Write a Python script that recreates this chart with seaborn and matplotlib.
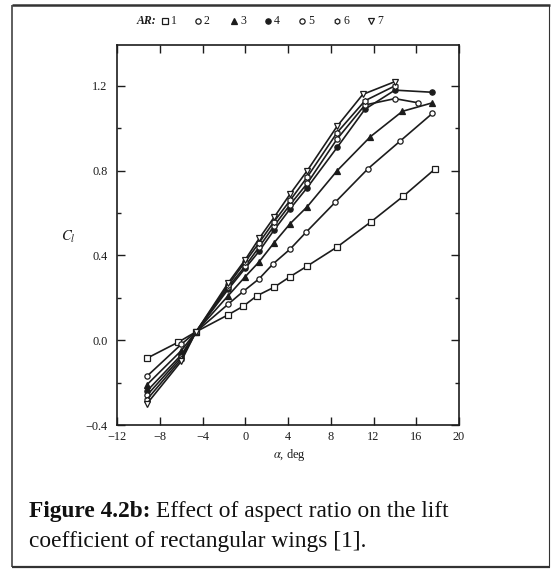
import matplotlib
matplotlib.use("Agg")
import matplotlib.pyplot as plt
import seaborn as sns
import pandas as pd
from matplotlib.lines import Line2D
from matplotlib.ticker import MultipleLocator, FixedLocator, FuncFormatter

# Lift coefficient C_l versus angle of attack (deg) for rectangular wings
alpha_ar1 = [-9.2, -6.3, -4.6, -1.6, -0.2, 1.1, 2.7, 4.2, 5.8, 8.6, 11.8, 14.8, 17.8]
cl_ar1 = [-0.085, -0.01, 0.04, 0.12, 0.16, 0.21, 0.25, 0.30, 0.35, 0.44, 0.56, 0.68, 0.81]

alpha_ar2 = [-9.2, -6.0, -4.6, -1.6, -0.2, 1.3, 2.6, 4.2, 5.7, 8.4, 11.5, 14.5, 17.5]
cl_ar2 = [-0.17, -0.02, 0.04, 0.17, 0.23, 0.29, 0.36, 0.43, 0.51, 0.65, 0.81, 0.94, 1.07]

alpha_ar3 = [-9.2, -6.0, -4.6, -1.6, 0.0, 1.3, 2.7, 4.2, 5.8, 8.6, 11.7, 14.7, 17.5]
cl_ar3 = [-0.21, -0.05, 0.04, 0.21, 0.30, 0.37, 0.46, 0.55, 0.63, 0.80, 0.96, 1.08, 1.12]

alpha_ar4 = [-9.2, -6.0, -4.6, -1.6, 0.0, 1.3, 2.7, 4.2, 5.8, 8.6, 11.2, 14.0, 17.5]
cl_ar4 = [-0.24, -0.07, 0.04, 0.24, 0.34, 0.42, 0.52, 0.62, 0.72, 0.91, 1.09, 1.18, 1.17]

alpha_ar5 = [-9.2, -6.0, -4.6, -1.6, 0.0, 1.3, 2.7, 4.2, 5.8, 8.6, 11.2, 14.0, 16.2]
cl_ar5 = [-0.26, -0.08, 0.04, 0.25, 0.35, 0.44, 0.54, 0.64, 0.74, 0.95, 1.11, 1.14, 1.12]

alpha_ar6 = [-9.2, -6.0, -4.6, -1.6, 0.0, 1.3, 2.7, 4.2, 5.8, 8.6, 11.2, 14.0]
cl_ar6 = [-0.28, -0.09, 0.04, 0.26, 0.37, 0.46, 0.56, 0.66, 0.77, 0.98, 1.13, 1.20]

alpha_ar7 = [-9.2, -6.0, -4.6, -1.6, 0.0, 1.3, 2.7, 4.2, 5.8, 8.6, 11.0, 14.0]
cl_ar7 = [-0.30, -0.10, 0.04, 0.27, 0.38, 0.48, 0.58, 0.69, 0.80, 1.01, 1.16, 1.22]

aspect_ratios = ["1", "2", "3", "4", "5", "6", "7"]
alphas = [alpha_ar1, alpha_ar2, alpha_ar3, alpha_ar4, alpha_ar5, alpha_ar6, alpha_ar7]
cls = [cl_ar1, cl_ar2, cl_ar3, cl_ar4, cl_ar5, cl_ar6, cl_ar7]

x_ticks = [-12, -8, -4, 0, 4, 8, 12, 16, 20]
y_ticks = [-0.4, 0.0, 0.4, 0.8, 1.2]

markers = ["s", "o", "^", "o", "o", "h", "v"]
filled = [False, False, True, True, False, False, False]

W, H = 554, 574
sns.set_theme(style="ticks")
plt.rcParams["font.family"] = ["Liberation Serif", "DejaVu Serif"]
plt.rcParams["mathtext.fontset"] = "stix"

INK = "#1c1c1c"

fig = plt.figure(figsize=(W / 100, H / 100), dpi=100)
fig.patch.set_facecolor("white")


def fx(px):
    return px / W


def fy(py):
    return 1 - py / H


ax = fig.add_axes([fx(117), fy(425), fx(459) - fx(117), fy(45) - fy(425)])
ax.set_facecolor("white")

frames = []
for ar, a, c in zip(aspect_ratios, alphas, cls):
    frames.append(pd.DataFrame({"alpha": a, "cl": c, "AR": ar}))
data = pd.concat(frames, ignore_index=True)

for ar, m, f in zip(aspect_ratios, markers, filled):
    sub = data[data["AR"] == ar]
    sns.lineplot(data=sub, x="alpha", y="cl", ax=ax, color=INK,
                 linewidth=1.2, sort=False, estimator=None,
                 marker=m, markersize=3.8 if m != "h" else 4.2,
                 markerfacecolor=INK if f else "white",
                 markeredgecolor=INK, markeredgewidth=0.9, zorder=3)

ax.set_xlim(-12, 20)
ax.set_ylim(-0.4, 1.393)
ax.xaxis.set_major_locator(FixedLocator(x_ticks))
ax.yaxis.set_major_locator(FixedLocator(y_ticks))
ax.yaxis.set_minor_locator(MultipleLocator(0.2))
ax.xaxis.set_major_formatter(FuncFormatter(lambda v, p: f"{v:.0f}".replace("-", "\u2212")))
ax.yaxis.set_major_formatter(FuncFormatter(lambda v, p: f"{v:.1f}".replace("-", "\u2212")))
ax.tick_params(which="both", direction="in", top=True, right=True,
               colors=INK, width=1.0)
ax.tick_params(which="major", length=6, labelsize=8.8, pad=7)
ax.tick_params(which="minor", length=3)
ax.tick_params(axis="x", pad=4)
for s in ax.spines.values():
    s.set_linewidth(1.2)
    s.set_color(INK)

ax.set_xlabel("")
ax.set_ylabel("")
fig.text(fx(289), fy(455), r"$\alpha$, deg", ha="center", va="center", fontsize=9, color=INK)
fig.text(fx(68), fy(237), r"$C_l$", ha="center", va="center", fontsize=10.5, color=INK)

# marker key along the top
key_y = fy(21)
fig.text(fx(156), key_y, "AR:", ha="right", va="center", fontsize=8.5,
         fontweight="bold", fontstyle="italic", color=INK)
key_x = [165, 198, 234, 268, 302, 337, 371]
for ar, m, f, kx in zip(aspect_ratios, markers, filled, key_x):
    fig.add_artist(Line2D([fx(kx)], [key_y], transform=fig.transFigure,
                          marker=m, markersize=3.8, linestyle="none",
                          markerfacecolor=INK if f else "white",
                          markeredgecolor=INK, markeredgewidth=0.9))
    fig.text(fx(kx + 6), key_y, ar, ha="left", va="center", fontsize=8.5, color=INK)

# page frame
frame_kw = dict(transform=fig.transFigure, color="#333333", solid_capstyle="butt")
fig.add_artist(Line2D([fx(12), fx(550)], [fy(5), fy(5)], linewidth=1.8, **frame_kw))
fig.add_artist(Line2D([fx(12), fx(12)], [fy(5), fy(567)], linewidth=1.1, **frame_kw))
fig.add_artist(Line2D([fx(12), fx(550)], [fy(567), fy(567)], linewidth=1.6, **frame_kw))
fig.add_artist(Line2D([fx(549), fx(549)], [fy(5), fy(567)], linewidth=0.8, **frame_kw))

# caption
cap_size = 16.8
t1 = fig.text(fx(29), fy(517), "Figure 4.2b:", ha="left", va="baseline",
              fontsize=cap_size, fontweight="bold", color="#111111")
fig.canvas.draw()
bb = t1.get_window_extent(renderer=fig.canvas.get_renderer())
fig.text(bb.x1 / W + fx(5), fy(517), "Effect of aspect ratio on the lift", ha="left",
         va="baseline", fontsize=cap_size, color="#111111")
fig.text(fx(29), fy(547), "coefficient of rectangular wings [1].", ha="left",
         va="baseline", fontsize=cap_size, color="#111111")

fig.savefig("out.png", dpi=100, facecolor="white")
